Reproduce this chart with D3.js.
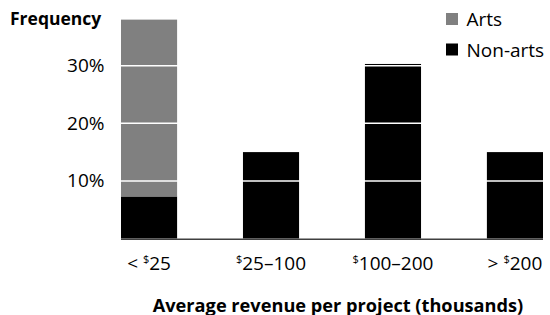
<!DOCTYPE html>
<html>
<head>
<meta charset="utf-8">
<script src="https://cdn.jsdelivr.net/npm/d3@7"></script>
<style>
  body { margin: 0; background: #fff; }
  text { font-family: 'Open Sans', sans-serif; fill: #000; }
</style>
</head>
<body>
<div id="chart"></div>
<script>
// data
var categories = ['lt25', '25-100', '100-200', 'gt200'];
var tickPrefix = ['< ', '', '', '> '];
var tickNumber = ['25', '25\u2013100', '100\u2013200', '200'];
var arts = [0.307, 0, 0, 0];
var nonArts = [0.073, 0.150, 0.303, 0.150];
var yTicks = [0.1, 0.2, 0.3];
var series = [
  {'name': 'Non-arts', 'color': '#000000', 'values': nonArts},
  {'name': 'Arts', 'color': '#808080', 'values': arts}
];
var legendItems = [{'name': 'Arts', 'color': '#808080'}, {'name': 'Non-arts', 'color': '#000000'}];

var width = 550, height = 315;

var svg = d3.select('#chart').append('svg')
  .attr('width', width)
  .attr('height', height);

var x = d3.scaleBand()
  .domain(categories)
  .range([121, 543])
  .paddingInner(0.54)
  .paddingOuter(0);

var y = d3.scaleLinear()
  .domain([0, 0.4])
  .range([238.5, 8.1]);

// stack the two series
var rows = categories.map(function(c, i) {
  var r = {'cat': c};
  series.forEach(function(s) { r[s.name] = s.values[i]; });
  return r;
});
var stacked = d3.stack().keys(series.map(function(s) { return s.name; }))(rows);

svg.append('g')
  .selectAll('g')
  .data(stacked)
  .enter()
  .append('g')
  .attr('fill', function(d, i) { return series[i].color; })
  .selectAll('rect')
  .data(function(d) { return d; })
  .enter()
  .append('rect')
  .attr('x', function(d) { return x(d.data.cat); })
  .attr('y', function(d) { return y(d[1]); })
  .attr('width', x.bandwidth())
  .attr('height', function(d) { return y(d[0]) - y(d[1]); });

// white gridlines over the bars
svg.append('g')
  .selectAll('line')
  .data(yTicks)
  .enter()
  .append('line')
  .attr('x1', x.range()[0])
  .attr('x2', x.range()[1])
  .attr('y1', function(d) { return y(d); })
  .attr('y2', function(d) { return y(d); })
  .attr('stroke', '#fff')
  .attr('stroke-width', 1.5);

// baseline
svg.append('line')
  .attr('x1', x.range()[0])
  .attr('x2', x.range()[1])
  .attr('y1', y(0) + 0.8)
  .attr('y2', y(0) + 0.8)
  .attr('stroke', '#404040')
  .attr('stroke-width', 1.5);

// y labels
svg.append('g')
  .selectAll('text')
  .data(yTicks)
  .enter()
  .append('text')
  .attr('x', 104.5)
  .attr('y', function(d) { return y(d) + 6.5; })
  .attr('text-anchor', 'end')
  .attr('font-size', 19)
  .text(d3.format('.0%'));

svg.append('text')
  .attr('x', 10)
  .attr('y', 25)
  .attr('font-size', 17.5)
  .attr('font-weight', 'bold')
  .text('Frequency');

// x labels with superscript dollar sign
var xl = svg.append('g')
  .selectAll('text')
  .data(categories)
  .enter()
  .append('text')
  .attr('x', function(d) { return x(d) + x.bandwidth() / 2; })
  .attr('y', 269.5)
  .attr('text-anchor', 'middle')
  .attr('font-size', 19);
xl.append('tspan').text(function(d, i) { return tickPrefix[i]; });
xl.append('tspan').attr('font-size', 11).attr('dy', -7).text('$');
xl.append('tspan').attr('dy', 7).text(function(d, i) { return tickNumber[i]; });

svg.append('text')
  .attr('x', 338)
  .attr('y', 311.5)
  .attr('text-anchor', 'middle')
  .attr('font-size', 18.2)
  .attr('font-weight', 'bold')
  .text('Average revenue per project (thousands)');

// legend
var lg = svg.append('g')
  .selectAll('g')
  .data(legendItems)
  .enter()
  .append('g')
  .attr('transform', function(d, i) { return 'translate(446,' + (13 + i * 30.5) + ')'; });
lg.append('rect')
  .attr('width', 12)
  .attr('height', 12)
  .attr('fill', function(d) { return d.color; });
lg.append('text')
  .attr('x', 20.5)
  .attr('y', 13)
  .attr('font-size', 19)
  .text(function(d) { return d.name; });
</script>
</body>
</html>
